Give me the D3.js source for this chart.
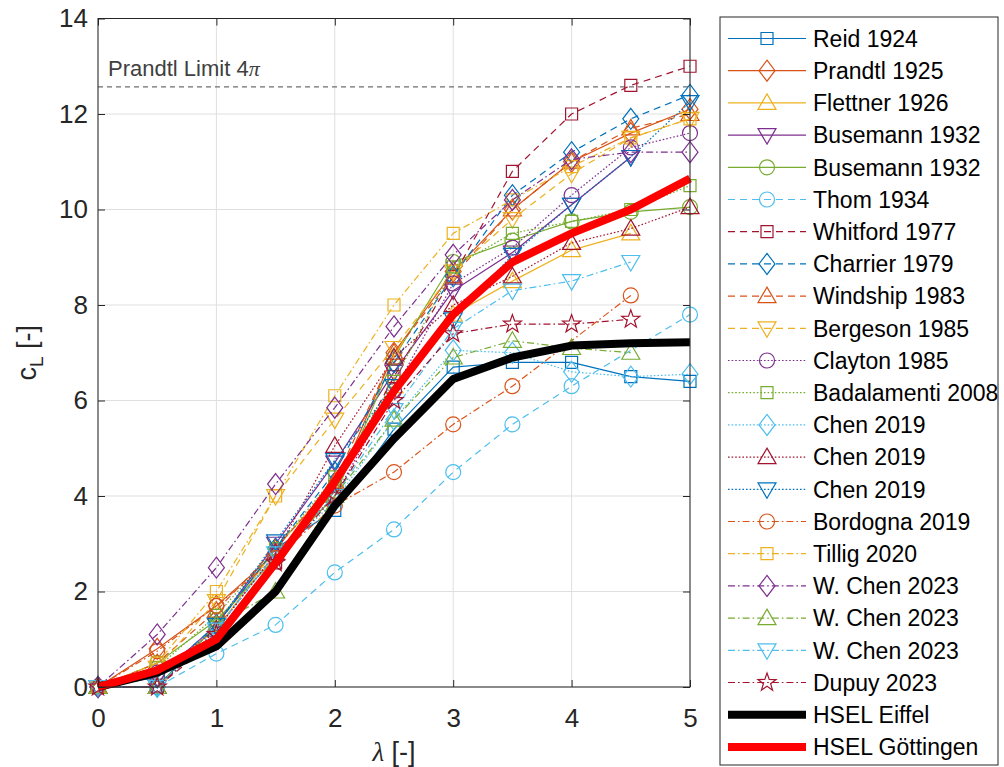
<!DOCTYPE html>
<html lang="en">
<head>
<meta charset="UTF-8">
<title>cL over lambda</title>
<style>
  * { margin: 0; padding: 0; }
  body { background: #fff; }
  svg text { font-family: Arial, 'Liberation Sans', Helvetica, sans-serif; fill: #262626; }
</style>
</head>
<body>
<div id="chart-area"></div>
<script src="https://cdn.jsdelivr.net/npm/d3@7/dist/d3.min.js"></script>
<script>

  // x values (spin ratio) shared by every series, null = no point
  const lambda = [0, 0.5, 1, 1.5, 2, 2.5, 3, 3.5, 4, 4.5, 5]

  const reid1924 = [0, 0, 1.3, 2.9, 3.7, 5.4, 6.7, 6.8, 6.8, 6.5, 6.4]
  const prandtl1925 = [0, 0.8, 1.7, 2.8, 4.1, 7.0, 8.7, 10.0, 11.0, 11.6, 12.1]
  const flettner1926 = [0, 0.3, 1.2, 2.9, 4.3, 6.3, 7.8, 8.5, 9.15, 9.5, null]
  const busemannA1932 = [0, 0.2, 1.3, 3.0, 4.7, 6.6, 8.3, 9.1, 10.1, 11.1, null]
  const busemannB1932 = [0, 0.5, 1.4, 2.7, 4.0, 6.9, 8.9, 9.35, 9.75, 9.95, 10.05]
  const thom1934 = [0, 0, 0.7, 1.3, 2.4, 3.3, 4.5, 5.5, 6.3, null, 7.8]
  const whitford1977 = [0, 0, 1.0, 2.6, 4.2, 6.5, 8.6, 10.8, 12.0, 12.6, 13.0]
  const charrier1979 = [0, 0.2, 1.3, 2.9, 4.5, 6.8, 8.6, 10.3, 11.2, 11.9, 12.4]
  const windship1983 = [0, 0.5, 1.6, 2.9, 4.3, 7.0, 8.6, 10.0, 11.0, 11.7, 12.0]
  const bergeson1985 = [0, 0.4, 1.8, 4.0, 5.6, 7.1, 8.7, 9.8, 10.75, 11.5, 11.9]
  const clayton1985 = [0, 0.3, 1.2, 2.8, 4.0, 6.2, 8.45, 9.2, 10.3, 11.3, 11.6]
  const badalamenti2008 = [0, 0.4, 1.5, 2.9, 4.4, 6.4, 8.8, 9.5, 9.75, 10.0, 10.5]
  const chenA2019 = [0, 0, 1.1, 2.7, 3.9, 5.6, 7.05, 7.0, 6.6, 6.5, 6.55]
  const chenB2019 = [0, 0, 1.2, 2.8, 5.05, 6.9, 8.0, 8.6, 9.3, 9.6, 10.05]
  const chenC2019 = [0, 0, 1.3, 3.05, 4.75, 6.3, 7.7, 9.05, 10.1, 11.1, 12.25]
  const bordogna2019 = [0, 0.75, 1.7, 2.7, 3.8, 4.5, 5.5, 6.3, null, 8.2, null]
  const tillig2020 = [0, 0.5, 2.0, 4.0, 6.1, 8.0, 9.5, 10.2, 10.9, 11.5, 11.9]
  const wchenA2023 = [0, 1.1, 2.5, 4.25, 5.85, 7.55, 9.05, 10.2, 11.05, 11.2, 11.2]
  const wchenB2023 = [0, 0, 1.3, 2.0, 4.0, 5.6, 6.9, 7.25, 7.1, 7.0, null]
  const wchenC2023 = [0, 0, 1.2, 2.8, 4.0, 5.8, 7.5, 8.3, 8.5, 8.9, null]
  const dupuy2023 = [0, 0, 1.1, 2.6, 4.0, 6.0, 7.4, 7.6, 7.6, 7.7, null]
  const hselEiffel = [0, 0.3, 0.85, 2.0, 3.8, 5.2, 6.45, 6.9, 7.15, 7.2, 7.22]
  const hselGoettingen = [0, 0.35, 1.0, 2.6, 4.3, 6.2, 7.8, 8.9, 9.5, 10.0, 10.65]

  const seriesNames = ['Reid 1924', 'Prandtl 1925', 'Flettner 1926', 'Busemann 1932', 'Busemann 1932',
    'Thom 1934', 'Whitford 1977', 'Charrier 1979', 'Windship 1983', 'Bergeson 1985', 'Clayton 1985',
    'Badalamenti 2008', 'Chen 2019', 'Chen 2019', 'Chen 2019', 'Bordogna 2019', 'Tillig 2020',
    'W. Chen 2023', 'W. Chen 2023', 'W. Chen 2023', 'Dupuy 2023', 'HSEL Eiffel', 'HSEL Göttingen']
  const seriesValues = [reid1924, prandtl1925, flettner1926, busemannA1932, busemannB1932, thom1934,
    whitford1977, charrier1979, windship1983, bergeson1985, clayton1985, badalamenti2008, chenA2019,
    chenB2019, chenC2019, bordogna2019, tillig2020, wchenA2023, wchenB2023, wchenC2023, dupuy2023,
    hselEiffel, hselGoettingen]

  const prandtlLimit = 4 * Math.PI
  const xTicks = [0, 1, 2, 3, 4, 5]
  const yTicks = [0, 2, 4, 6, 8, 10, 12, 14]

  // styling
  const matlab = ['#0072BD', '#D95319', '#EDB120', '#7E2F8E', '#77AC30', '#4DBEEE', '#A2142F']
  const markerCycle = ['square', 'diamond', 'up', 'down', 'circle', 'circle', 'square', 'diamond', 'up',
    'down', 'circle', 'square', 'diamond', 'up', 'down', 'circle', 'square', 'diamond', 'up', 'down', 'star']
  const dashFor = i => i < 5 ? null : i < 10 ? '7,5' : i < 15 ? '1.6,2' : '7,3,1.6,3'

  const series = seriesNames.map((name, i) => {
    const heavy = i >= 21
    return {
      name,
      values: seriesValues[i],
      color: heavy ? (i === 21 ? '#000' : '#ff0000') : matlab[i % 7],
      dash: heavy ? null : dashFor(i),
      width: heavy ? 8 : 1.2,
      marker: heavy ? null : markerCycle[i]
    }
  })

  function markerPath(shape) {
    switch (shape) {
      case 'square': return 'M-6,-6H6V6H-6Z'
      case 'circle': return d3.symbol(d3.symbolCircle, Math.PI * 7.5 * 7.5)()
      case 'diamond': return 'M0,-10.5L8,0L0,10.5L-8,0Z'
      case 'up': return 'M0,-9L9,6.5H-9Z'
      case 'down': return 'M0,9L9,-6.5H-9Z'
      case 'star': {
        const pts = []
        for (let k = 0; k < 10; k++) {
          const r = k % 2 === 0 ? 9.5 : 3.8
          const a = -Math.PI / 2 + k * Math.PI / 5
          pts.push([r * Math.cos(a), r * Math.sin(a)])
        }
        return 'M' + pts.map(p => p.join(',')).join('L') + 'Z'
      }
    }
  }

  const W = 1004, H = 767
  const PLOT = {LEFT: 98, RIGHT: 690, TOP: 18.5, BOTTOM: 687}

  const svg = d3.select('#chart-area').append('svg')
    .attr('width', W).attr('height', H)
    .style('background-color', '#fff')

  const x = d3.scaleLinear().domain([0, 5]).range([PLOT.LEFT, PLOT.RIGHT])
  const y = d3.scaleLinear().domain([0, 14]).range([PLOT.BOTTOM, PLOT.TOP])

  // grid
  const grid = svg.append('g').attr('class', 'grid')
  grid.selectAll('line.gx').data(xTicks).join('line')
    .attr('x1', d => x(d)).attr('x2', d => x(d))
    .attr('y1', PLOT.TOP).attr('y2', PLOT.BOTTOM)
    .attr('stroke', '#dfdfdf').attr('stroke-width', 1)
  grid.selectAll('line.gy').data(yTicks).join('line')
    .attr('y1', d => y(d)).attr('y2', d => y(d))
    .attr('x1', PLOT.LEFT).attr('x2', PLOT.RIGHT)
    .attr('stroke', '#dfdfdf').attr('stroke-width', 1)

  // prandtl limit
  svg.append('line')
    .attr('x1', x(0)).attr('x2', x(5))
    .attr('y1', y(prandtlLimit)).attr('y2', y(prandtlLimit))
    .attr('stroke', '#6e6e6e').attr('stroke-width', 1.2)
    .attr('stroke-dasharray', '5,4')
  const pl = svg.append('text')
    .attr('x', x(0) + 10).attr('y', y(prandtlLimit) - 11)
    .attr('font-size', '22px').style('fill', '#404040')
  pl.append('tspan').text('Prandtl Limit 4')
  pl.append('tspan').attr('font-style', 'italic').attr('font-family', 'Liberation Serif, serif').text('π')

  // series (missing points are skipped, the line joins the neighbours)
  const line = d3.line()
    .x(d => x(d[0])).y(d => y(d[1]))

  series.forEach(s => {
    const pts = lambda.map((l, i) => [l, s.values[i]]).filter(p => p[1] !== null)
    const g = svg.append('g')
    g.append('path')
      .datum(pts)
      .attr('d', line)
      .attr('fill', 'none')
      .attr('stroke', s.color)
      .attr('stroke-width', s.width)
      .attr('stroke-linejoin', 'round')
      .attr('stroke-dasharray', s.dash)
    if (s.marker) {
      g.selectAll('path.mk').data(pts).join('path')
        .attr('class', 'mk')
        .attr('d', markerPath(s.marker))
        .attr('transform', d => `translate(${x(d[0])},${y(d[1])})`)
        .attr('fill', 'none')
        .attr('stroke', s.color)
        .attr('stroke-width', 1.2)
    }
  })

  // axes
  const axisColor = '#262626'
  const styleAxis = g => {
    g.selectAll('.domain').remove()
    g.selectAll('line').attr('stroke', axisColor)
    g.selectAll('text').attr('font-size', '26px').style('fill', axisColor)
      .attr('font-family', 'Arial, Liberation Sans, sans-serif')
  }
  svg.append('g').attr('transform', `translate(0,${PLOT.BOTTOM})`)
    .call(d3.axisBottom(x).tickValues(xTicks).tickSize(-7).tickPadding(22).tickFormat(d3.format('d')))
    .call(styleAxis)
  svg.append('g').attr('transform', `translate(${PLOT.LEFT},0)`)
    .call(d3.axisLeft(y).tickValues(yTicks).tickSize(-7).tickPadding(10).tickFormat(d3.format('d')))
    .call(styleAxis)
  svg.append('g').attr('transform', `translate(0,${PLOT.TOP})`)
    .call(d3.axisTop(x).tickValues(xTicks).tickSize(-7).tickFormat(''))
    .call(styleAxis)
  svg.append('g').attr('transform', `translate(${PLOT.RIGHT},0)`)
    .call(d3.axisRight(y).tickValues(yTicks).tickSize(-7).tickFormat(''))
    .call(styleAxis)
  svg.append('rect')
    .attr('x', PLOT.LEFT).attr('y', PLOT.TOP)
    .attr('width', PLOT.RIGHT - PLOT.LEFT).attr('height', PLOT.BOTTOM - PLOT.TOP)
    .attr('fill', 'none').attr('stroke', axisColor).attr('stroke-width', 1)

  // axis labels
  const xl = svg.append('text')
    .attr('x', (PLOT.LEFT + PLOT.RIGHT) / 2).attr('y', 761)
    .attr('text-anchor', 'middle').attr('font-size', '27px')
  xl.append('tspan').attr('font-style', 'italic').attr('font-family', 'Liberation Serif, serif').text('λ')
  xl.append('tspan').text(' [-]')

  const yl = svg.append('text')
    .attr('transform', `translate(36,${(PLOT.TOP + PLOT.BOTTOM) / 2}) rotate(-90)`)
    .attr('text-anchor', 'middle').attr('font-size', '27px')
  yl.append('tspan').text('c')
  yl.append('tspan').attr('font-size', '19px').attr('dy', 7).text('L')
  yl.append('tspan').attr('dy', -7).text(' [-]')

  // legend
  const LEG = {X: 720, Y: 17, W: 278, H: 748, ROW0: 38.5, STEP: 32.2}
  const leg = svg.append('g')
  leg.append('rect')
    .attr('x', LEG.X).attr('y', LEG.Y).attr('width', LEG.W).attr('height', LEG.H)
    .attr('fill', '#fff').attr('stroke', axisColor).attr('stroke-width', 1)

  const rows = leg.selectAll('g.row').data(series).join('g')
    .attr('class', 'row')
    .attr('transform', (d, i) => `translate(0,${LEG.ROW0 + i * LEG.STEP})`)
  rows.append('line')
    .attr('x1', 728).attr('x2', 806).attr('y1', 0).attr('y2', 0)
    .attr('stroke', d => d.color)
    .attr('stroke-width', d => d.width)
    .attr('stroke-dasharray', d => d.dash)
  rows.filter(d => d.marker).append('path')
    .attr('d', d => markerPath(d.marker))
    .attr('transform', 'translate(767,0)')
    .attr('fill', 'none')
    .attr('stroke', d => d.color)
    .attr('stroke-width', 1.2)
  rows.append('text')
    .attr('x', 813).attr('y', 0).attr('dy', '0.36em')
    .attr('font-size', '23px')
    .style('fill', '#000')
    .text(d => d.name)

</script>
</body>
</html>
